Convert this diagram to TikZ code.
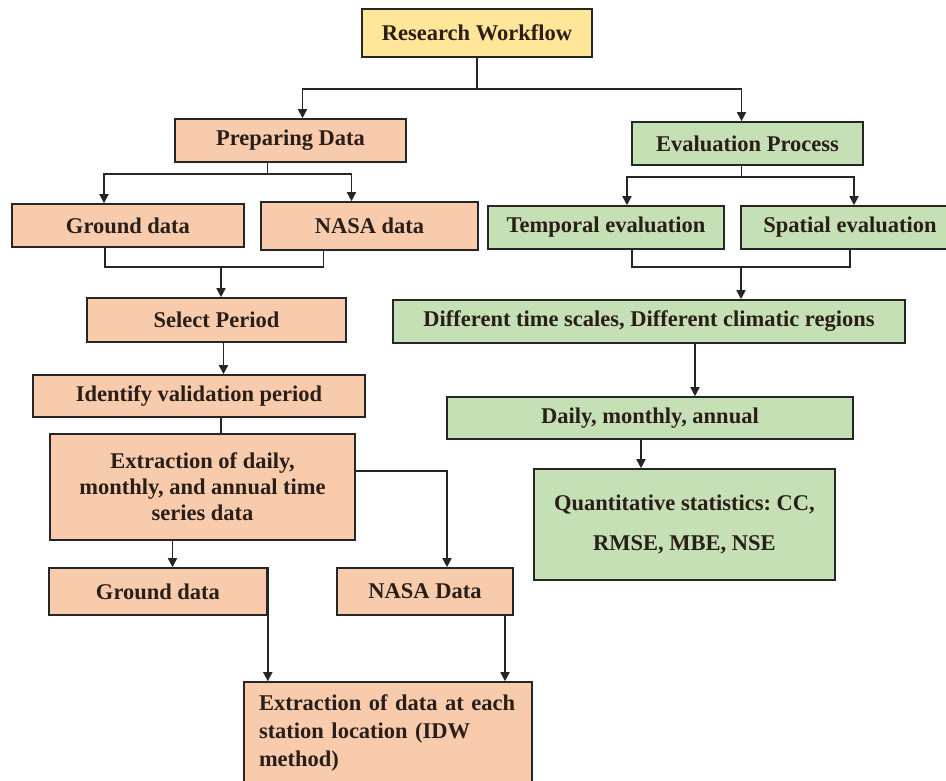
\documentclass[tikz,border=0pt]{standalone}
\usepackage{fontspec}
\setmainfont{Liberation Serif}
\usetikzlibrary{arrows.meta}
\frenchspacing
\definecolor{peach}{HTML}{F8CBAD}
\definecolor{sage}{HTML}{C5E0B4}
\definecolor{sand}{HTML}{FFE699}
\definecolor{ink}{HTML}{2A1E18}
\tikzset{
    box/.style={draw=black!85, line width=1.6pt, align=center, inner sep=0pt, text=ink,
        font=\fontsize{22.5}{26}\selectfont\bfseries},
    prepbox/.style={box, fill=peach},
    evalbox/.style={box, fill=sage},
    link/.style={line width=1.6pt, draw=black!85},
    >={Triangle[length=9pt,width=9pt]}
}
\begin{document}
\begin{tikzpicture}[x=1pt, y=-1pt]
    \useasboundingbox (0,0) rectangle (946,780);
    \draw (477,33) node[box, fill=sand, minimum width=230pt, minimum height=48pt](rw){Research Workflow};
    \draw (290.5,140.5) node[prepbox, minimum width=231pt, minimum height=43pt](prep){Preparing Data};
    \draw (128,225.5) node[prepbox, minimum width=232pt, minimum height=43pt](gnd){Ground data};
    \draw (369.5,226) node[prepbox, minimum width=217pt, minimum height=48pt](nasa){NASA data};
    \draw (216.5,320) node[prepbox, minimum width=259pt, minimum height=44pt](sel){Select Period};
    \draw (199,396) node[prepbox, minimum width=332pt, minimum height=42pt](ident){Identify validation period};
    \draw (202.5,487) node[prepbox, minimum width=305pt, minimum height=106pt](extr){
        Extraction of daily,\\
        monthly, and annual time\\
        series data
    };
    \draw (158,591.5) node[prepbox, minimum width=218pt, minimum height=47pt](gnd2){Ground data};
    \draw (425,591.5) node[prepbox, minimum width=176pt, minimum height=47pt](nasa2){NASA Data};
    \draw (388,733) node[prepbox, minimum width=288pt, minimum height=102pt, align=left, text width=258pt](stat){
        Extraction of data at each\\[2pt]
        station location (IDW\\[2pt]
        method)
    };
    \draw (747.5,143.5) node[evalbox, minimum width=231pt, minimum height=43pt](eval){Evaluation Process};
    \draw (606,227.5) node[evalbox, minimum width=236pt, minimum height=43pt](temp){Temporal evaluation};
    \draw (850,227.5) node[evalbox, minimum width=218pt, minimum height=43pt](spat){Spatial evaluation};
    \draw (649,321.5) node[evalbox, minimum width=512pt, minimum height=43pt](diff){Different time scales, Different climatic regions};
    \draw (650,418) node[evalbox, minimum width=406pt, minimum height=42pt](daily){Daily, monthly, annual};
    \draw (684.5,524.5) node[evalbox, minimum width=301pt, minimum height=111pt](quant){
        Quantitative statistics: CC,\\[14pt]
        RMSE, MBE, NSE
    };
    \draw[link] (rw.south) -- ++(0,31) coordinate (rwj);
    \draw[link, ->] (rwj) -| ([xshift=12pt]prep.north);
    \draw[link, ->] (rwj) -| ([xshift=-6pt]eval.north);
    \draw[link] ([xshift=-23pt]prep.south) -- ++(0,11) coordinate (prj);
    \draw[link, ->] (prj) -| ([xshift=-24pt]gnd.north);
    \draw[link, ->] (prj) -| ([xshift=-18pt]nasa.north);
    \coordinate (gn) at (221,267);
    \draw[link] ([xshift=-23pt]gnd.south) |- (gn) -| ([xshift=-46pt]nasa.south);
    \draw[link, ->] (gn) -- (gn |- sel.north);
    \draw[link, ->] ([xshift=7pt]sel.south) coordinate (s1) -- (s1 |- ident.north);
    \draw[link] ([xshift=22pt]ident.south) coordinate (i1) -- (i1 |- extr.north);
    \draw[link, ->] ([yshift=16pt]extr.east) -| ([xshift=22pt]nasa2.north);
    \draw[link, ->] ([xshift=-30pt]extr.south) coordinate (e1) -- (e1 |- gnd2.north);
    \draw[link, ->] (gnd2.north east) -- (gnd2.north east |- stat.north);
    \draw[link, ->] ([xshift=80pt]nasa2.south) coordinate (n2) -- (n2 |- stat.north);
    \draw[link] ([xshift=-6pt]eval.south) -- ++(0,11) coordinate (evj);
    \draw[link, ->] (evj) -| ([xshift=21pt]temp.north);
    \draw[link, ->] (evj) -| ([xshift=4pt]spat.north);
    \coordinate (tn) at (741,267);
    \draw[link] ([xshift=26pt]temp.south) |- (tn) -| (spat.south);
    \draw[link, ->] (tn) -- (tn |- diff.north);
    \draw[link, ->] ([xshift=46pt]diff.south) coordinate (d1) -- (d1 |- daily.north);
    \draw[link, ->] ([xshift=-9pt]daily.south) coordinate (d2) -- (d2 |- quant.north);
\end{tikzpicture}
\end{document}
